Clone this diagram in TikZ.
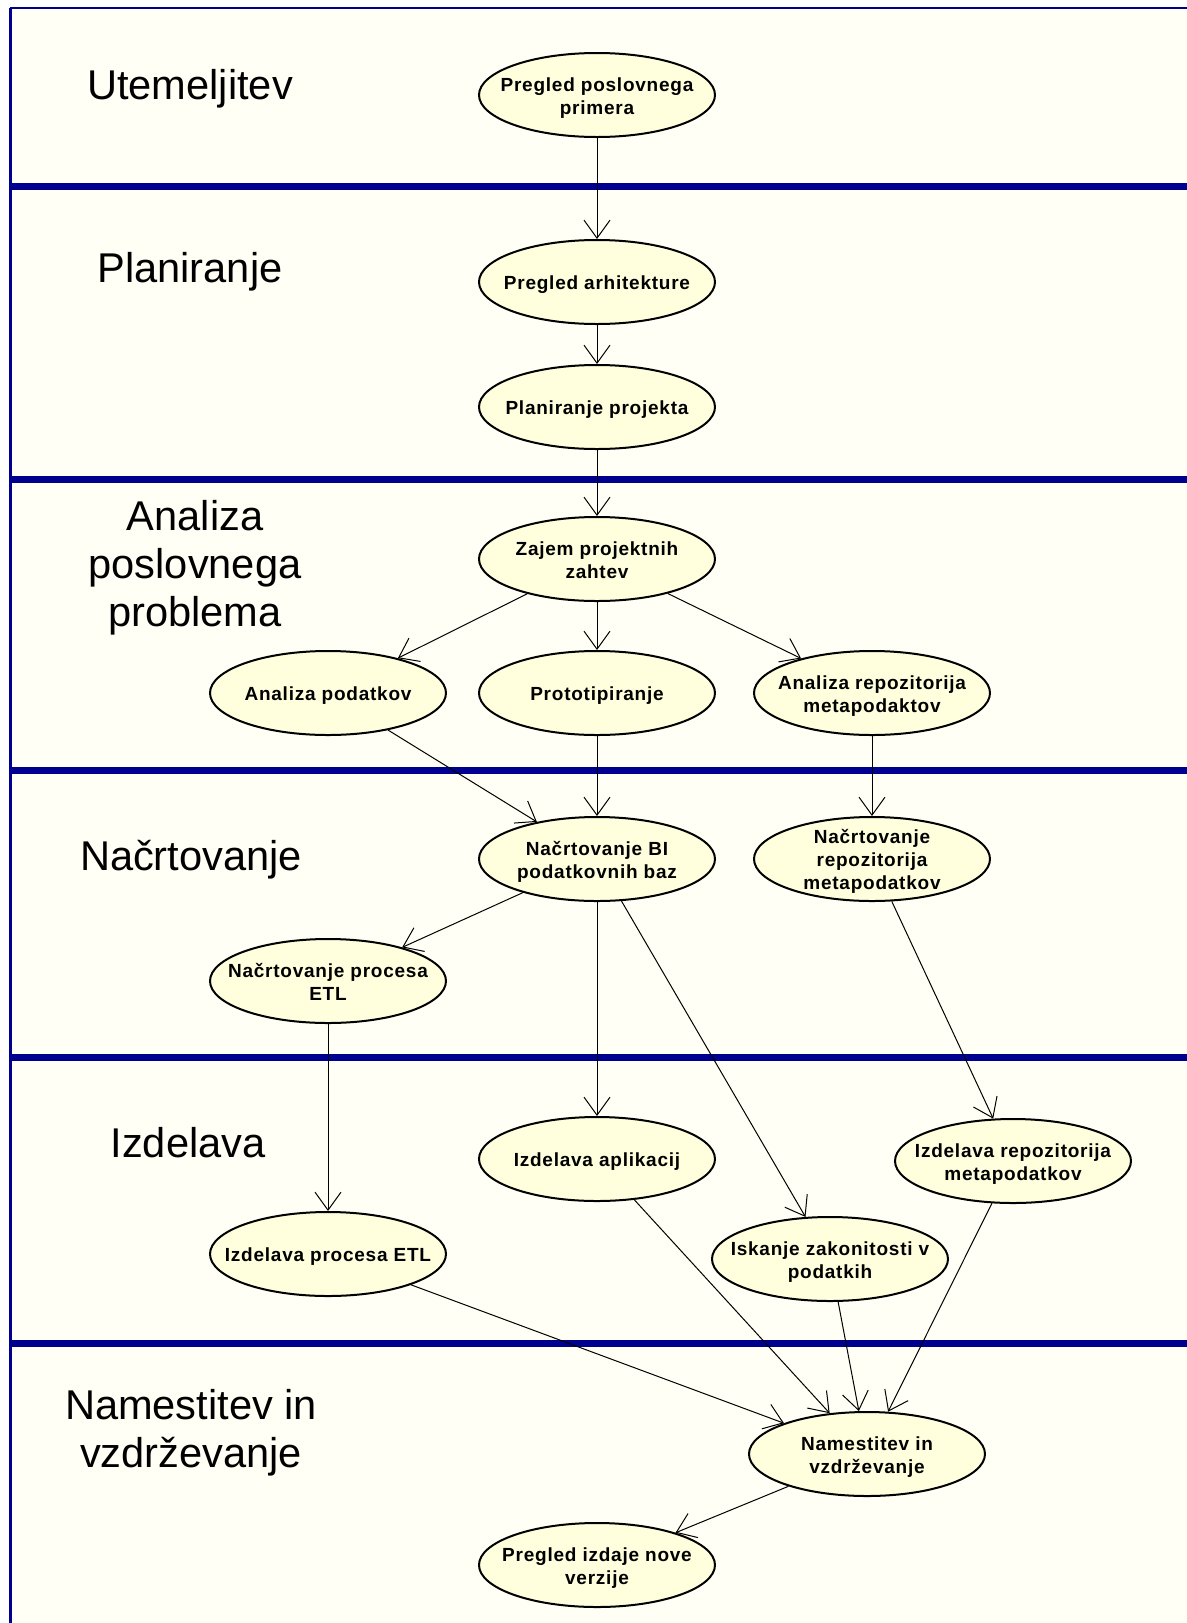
\documentclass[tikz,border=0pt]{standalone}
\usepackage{fontspec}
\setmainfont{Liberation Sans}
\usetikzlibrary{shapes.geometric,arrows.meta}

\definecolor{lanebg}{RGB}{255,255,245}
\definecolor{nodefill}{RGB}{255,255,221}
\definecolor{laneline}{RGB}{0,0,144}

% activity text: set in a zero-size box so the ellipse keeps its fixed size
\newcommand\acttext[1]{\smash{\makebox[0pt]{\raisebox{-3.9pt}{\begin{tabular}{@{}c@{}}#1\end{tabular}}}}}
\newcommand\actfont{\bfseries\fontsize{9.5}{11.5}\selectfont\addfontfeatures{LetterSpace=4}}
\newcommand\lanefont{\fontsize{20.8}{24}\selectfont}

\begin{document}
\begin{tikzpicture}[x=0.5pt,y=-0.5pt,
  activity/.style={ellipse, draw=black, line width=1pt, fill=nodefill,
    minimum width=118pt, minimum height=42pt, inner sep=0pt, font=\actfont},
  flow/.style={line width=0.5pt, -{Straight Barb[length=9pt,width=13pt]}},
  lanelabel/.style={align=center, font=\lanefont, inner sep=0pt},
  divider/.style={laneline, line width=3.5pt}]

\useasboundingbox (0,0) rectangle (1187,1623);
\fill[white] (0,0) rectangle (1187,1623);
\fill[lanebg] (10,8) rectangle (1187,1623);

% frame
\draw[laneline, line width=1pt] (10,8) -- (1187,8);
\draw[laneline, line width=1.5pt] (10.75,8) -- (10.75,1623);

% lane dividers
\foreach \yy in {186,479,770,1057,1343}
  \draw[divider] (10,\yy) -- (1187,\yy);

% lane titles
\node[lanelabel] (l1) at (190,89) {Utemeljitev};
\node[lanelabel] (l2) at (190,272) {Planiranje};
\node[lanelabel] (l3) at (195,568) {Analiza\\poslovnega\\problema};
\node[lanelabel] (l4) at (191,860) {Načrtovanje};
\node[lanelabel] (l5) at (188,1143) {Izdelava};
\node[lanelabel] (l6) at (191,1433) {Namestitev in\\vzdrževanje};

% activities
\node[activity] (a1) at (597,95)   {\acttext{Pregled poslovnega\\primera}};
\node[activity] (p1) at (597,282)  {\acttext{Pregled arhitekture}};
\node[activity] (p2) at (597,407)  {\acttext{Planiranje projekta}};
\node[activity] (z)  at (597,559)  {\acttext{Zajem projektnih\\zahtev}};
\node[activity] (ap) at (328,693)  {\acttext{Analiza podatkov}};
\node[activity] (pr) at (597,693)  {\acttext{Prototipiranje}};
\node[activity] (ar) at (872,693)  {\acttext{Analiza repozitorija\\metapodaktov}};
\node[activity] (nb) at (597,859)  {\acttext{Načrtovanje BI\\podatkovnih baz}};
\node[activity] (nr) at (872,859)  {\acttext{Načrtovanje\\repozitorija\\metapodatkov}};
\node[activity] (ne) at (328,981)  {\acttext{Načrtovanje procesa\\ETL}};
\node[activity] (ia) at (597,1159) {\acttext{Izdelava aplikacij}};
\node[activity] (ir) at (1013,1161){\acttext{Izdelava repozitorija\\metapodatkov}};
\node[activity] (ie) at (328,1254) {\acttext{Izdelava procesa ETL}};
\node[activity] (iz) at (830,1259) {\acttext{Iskanje zakonitosti v\\podatkih}};
\node[activity] (nv) at (867,1454) {\acttext{Namestitev in\\vzdrževanje}};
\node[activity] (pn) at (597,1565) {\acttext{Pregled izdaje nove\\verzije}};

% control flow
\draw[flow] (a1) -- (p1);
\draw[flow] (p1) -- (p2);
\draw[flow] (p2) -- (z);
\draw[flow] (z) -- (ap);
\draw[flow] (z) -- (pr);
\draw[flow] (z) -- (ar);
\draw[flow] (ap) -- (nb);
\draw[flow] (pr) -- (nb);
\draw[flow] (ar) -- (nr);
\draw[flow] (nb) -- (ne);
\draw[flow] (nb) -- (ia);
\draw[flow] (nb) -- (iz);
\draw[flow] (nr) -- (ir);
\draw[flow] (ne) -- (ie);
\draw[flow] (ia) -- (nv);
\draw[flow] (ie) -- (nv);
\draw[flow] (iz) -- (nv);
\draw[flow] (ir) -- (nv);
\draw[flow] (nv) -- (pn);
\end{tikzpicture}
\end{document}
